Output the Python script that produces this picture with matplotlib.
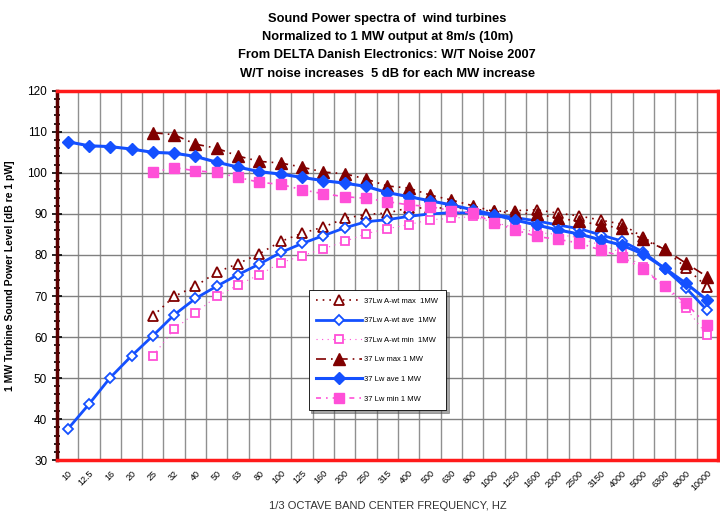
import numpy as np
import matplotlib
matplotlib.use("Agg")
import matplotlib.pyplot as plt
from matplotlib.ticker import MultipleLocator

plt.rcParams['font.family'] = ['Liberation Sans', 'DejaVu Sans']

freqs = ['10', '12.5', '16', '20', '25', '32', '40', '50', '63', '80', '100', '125',
         '160', '200', '250', '315', '400', '500', '630', '800', '1000', '1250',
         '1600', '2000', '2500', '3150', '4000', '5000', '6300', '8000', '10000']

# max/min series start at 25 Hz
awt_max = [65.1, 69.9, 72.4, 75.8, 77.9, 80.3, 83.3, 85.3, 86.8, 88.9, 89.9, 90.2,
           91.5, 91.4, 91.5, 91.2, 90.6, 90.8, 91.0, 90.2, 89.5, 88.5, 87.5, 84.3,
           81.3, 76.9, 72.2]
awt_ave = [37.5, 43.6, 50.1, 55.4, 60.3, 65.4, 69.4, 72.4, 75.2, 77.8, 80.6, 82.8,
           84.7, 86.6, 88.1, 88.6, 89.4, 90.0, 90.3, 90.2, 89.8, 89.1, 88.3, 87.3,
           86.4, 84.9, 83.4, 80.7, 76.7, 72.0, 66.5]
awt_min = [55.4, 61.9, 65.9, 69.9, 72.7, 75.2, 78.1, 79.8, 81.5, 83.3, 85.2, 86.4,
           87.4, 88.6, 88.9, 89.4, 87.9, 86.7, 85.5, 85.0, 84.2, 82.4, 80.6, 77.0,
           72.3, 67.1, 60.4]
lw_max = [109.8, 109.3, 107.0, 106.0, 104.1, 102.8, 102.4, 101.4, 100.2, 99.8, 98.5,
          96.8, 96.3, 94.6, 93.4, 92.0, 90.6, 90.2, 90.0, 89.0, 88.2, 87.3, 86.5,
          83.8, 81.4, 78.0, 74.7]
lw_ave = [107.6, 106.6, 106.4, 105.8, 105.0, 104.8, 104.0, 102.6, 101.4, 100.3, 99.7,
          98.9, 98.1, 97.5, 96.7, 95.2, 94.2, 93.2, 92.2, 91.0, 89.8, 88.5, 87.3,
          86.1, 85.1, 83.7, 82.4, 80.2, 76.8, 73.1, 69.0]
lw_min = [100.1, 101.3, 100.5, 100.1, 98.9, 97.7, 97.2, 95.9, 94.9, 94.2, 93.8, 93.0,
          92.2, 91.8, 90.8, 90.2, 87.9, 86.1, 84.5, 83.8, 82.9, 81.2, 79.6, 76.5,
          72.4, 68.2, 62.9]

x = np.arange(len(freqs))
x_mm = x[4:]

dark_red = '#800000'
blue = '#1450ff'
pink = '#ff4fd8'

fig = plt.figure(figsize=(7.2, 5.13), dpi=100)
ax = fig.add_axes([0.079, 0.103, 0.918, 0.72])

ax.plot(x_mm, awt_max, color=dark_red, ls=(0, (1, 3)), lw=1.2, marker='^', ms=7,
        mfc='white', mec=dark_red, mew=1.3, label='37Lw A-wt max  1MW')
ax.plot(x, awt_ave, color=blue, ls='-', lw=2, marker='D', ms=5,
        mfc='white', mec=blue, mew=1.3, label='37Lw A-wt ave  1MW')
ax.plot(x_mm, awt_min, color=pink, ls=(0, (1, 4)), lw=0.8, marker='s', ms=6,
        mfc='white', mec=pink, mew=1.3, label='37Lw A-wt min  1MW')
ax.plot(x_mm, lw_max, color=dark_red, ls=(0, (6, 3, 1, 3)), lw=1.2, marker='^', ms=8,
        label='37 Lw max 1 MW')
ax.plot(x, lw_ave, color=blue, ls='-', lw=2.2, marker='D', ms=6,
        label='37 Lw ave 1 MW')
ax.plot(x_mm, lw_min, color=pink, ls=(0, (3, 3, 1, 3)), lw=1.2, marker='s', ms=7,
        label='37 Lw min 1 MW')

ax.set_xlim(-0.5, len(freqs) - 0.5)
ax.set_ylim(30, 120)
ax.set_xticks(x)
ax.set_xticklabels(freqs, rotation=45, fontsize=6.5, ha='right', rotation_mode='anchor')
ax.set_xticks(x[:-1] + 0.5, minor=True)
ax.tick_params(axis='x', which='both', length=0, pad=6)
ax.yaxis.set_major_locator(MultipleLocator(10))
ax.yaxis.set_minor_locator(MultipleLocator(2))
ax.tick_params(axis='y', which='major', direction='inout', length=7, width=1.2,
               labelsize=8.5, color='black')
ax.tick_params(axis='y', which='minor', direction='inout', length=5, width=1.2,
               color='black')

ax.grid(True, which='major', axis='y', color='#808080', lw=1)
ax.grid(True, which='minor', axis='x', color='#909090', lw=1)
ax.set_axisbelow(True)

for side in ['top', 'right', 'bottom']:
    ax.spines[side].set_color('#ff1a1a')
    ax.spines[side].set_linewidth(2.5)
ax.spines['left'].set_color('#5a0000')
ax.spines['left'].set_linewidth(2.5)

ax.set_ylabel('1 MW Turbine Sound Power Level [dB re 1 pW]', fontsize=7.5,
              fontweight='bold', labelpad=9)
ax.set_xlabel('1/3 OCTAVE BAND CENTER FREQUENCY, HZ', fontsize=8, color='#333333',
              labelpad=6)

fig.text(0.538, 0.975, 'Sound Power spectra of  wind turbines\n'
         'Normalized to 1 MW output at 8m/s (10m)\n'
         'From DELTA Danish Electronics: W/T Noise 2007\n'
         'W/T noise increases  5 dB for each MW increase',
         ha='center', va='top', fontsize=9.3, fontweight='bold', linespacing=1.7)

leg = ax.legend(loc='lower left', bbox_to_anchor=(0.375, 0.125), fontsize=5.5,
                frameon=True, fancybox=False, shadow=True, edgecolor='black',
                handlelength=6, labelspacing=1.6, borderpad=1.0, handletextpad=0.3)
leg.get_frame().set_linewidth(0.6)

fig.savefig('out.png', dpi=100, facecolor='white')
